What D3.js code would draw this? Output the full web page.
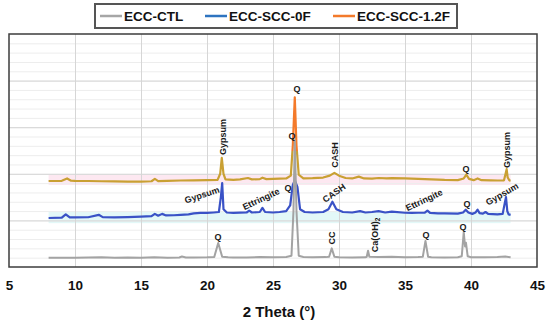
<!DOCTYPE html>
<html>
<head>
<meta charset="utf-8">
<script src="https://cdn.jsdelivr.net/npm/d3@7"></script>
<style>
  body { margin: 0; background: #fff; }
  svg { display: block; font-family: "Liberation Sans", Arial, sans-serif; }
  .peak { font-size: 9px; font-weight: bold; fill: #1a1a1a; }
</style>
</head>
<body>
<div id="chart"></div>
<script>
// XRD patterns, [2 theta, intensity (a.u., stacked offsets)]
const seriesNames = ["ECC-CTL", "ECC-SCC-0F", "ECC-SCC-1.2F"];
const xTicks = [5, 10, 15, 20, 25, 30, 35, 40, 45];

const ctl = [[8,9.8],[9,10],[10,9.8],[11,10.2],[12,10.4],[13,10],[14,10.2],[15,9.9],[16,10.5],[17,10],
  [17.9,10.2],[18.1,11.2],[18.4,10.3],[19,10.2],[20,10.4],[20.55,10.8],[20.85,25.8],[21.15,11],[21.6,10.4],
  [22,10.2],[23,10.3],[24,10.6],[25,10.4],[26,10.8],[26.4,12],[26.55,60],[26.65,136],[26.78,60],[26.95,12],
  [27.3,10.8],[28,10.5],[29,10.6],[29.25,11],[29.45,20],[29.65,11],[30,10.5],[31,10.3],[32,10.4],[32.1,11],
  [32.2,17.5],[32.3,11],[33,10.6],[34,11],[35,10.4],[36,10.6],[36.35,11],[36.55,28],[36.75,11],[37,10.5],
  [38,10.3],[39,10.4],[39.3,11.5],[39.45,37.5],[39.55,22],[39.62,26],[39.75,11.5],[40,10.5],[41,10.4],
  [42,10.6],[42.6,11.2],[43,10.4]];

const scc0 = [[8,52.6],[9,53],[9.3,56.5],[9.6,53.2],[10,53.2],[11,53.4],[11.8,56],[12.1,53.5],[13,53.3],
  [14,53.5],[15,54],[15.8,54.5],[16.05,57],[16.3,55],[16.6,57],[16.9,55.3],[17.5,55.5],[18,56],[18.6,56.5],
  [19,57.5],[19.5,58],[20,58],[20.5,58.5],[20.9,59],[21.05,75],[21.15,90],[21.25,62],[21.5,58.5],[22,58],
  [22.5,58.3],[23,58.5],[23.2,60.5],[23.4,58.5],[24,59],[24.2,63.5],[24.4,59],[25,58.5],[25.5,59],[26,60],
  [26.3,66],[26.5,88],[26.65,93],[26.85,86],[27.05,62],[27.4,59],[28,58.5],[28.8,59],[29.2,62],[29.5,70],
  [29.8,62],[30.3,59],[31,58.5],[31.6,60],[32,58.5],[32.5,59],[33,60],[33.5,58.5],[34,59.5],[35,58.2],
  [35.5,58],[36,58.2],[36.5,58.3],[36.7,60.5],[36.9,58],[37.5,57.5],[38,57.6],[39,57.2],[39.4,58.5],
  [39.6,61.5],[39.8,58.5],[40.1,57],[40.35,58.5],[40.5,61.5],[40.65,57.8],[40.9,57.2],[41.1,59],[41.3,57],
  [42,56.5],[42.4,57],[42.55,68],[42.65,75],[42.75,60],[42.85,56.5],[43,56]];

const scc12 = [[8,92.3],[9,92.5],[9.4,95],[9.7,92.6],[10,92.4],[11,92.3],[12,92],[13,91.8],[14,91.7],
  [15,91.6],[15.8,92],[16.05,94.5],[16.3,92.2],[17,92.4],[18,92.8],[19,93],[20,93.2],[20.8,93.5],[21,100],
  [21.12,117],[21.25,100],[21.4,94],[22,93.5],[22.5,94],[23.1,95.5],[23.4,94],[24,94.3],[24.2,95.8],
  [24.5,94.3],[25,94.5],[25.5,94.8],[26,95],[26.35,98],[26.5,130],[26.65,182],[26.78,130],[26.95,99],
  [27.3,95],[28,95.3],[28.8,96],[29.3,98],[29.65,101],[30,98],[30.5,95.5],[31,95],[31.5,97],[31.9,95],
  [32.5,94.8],[33,95.5],[33.6,95],[34,95.3],[35,95],[36,94.5],[37,94],[38,93.4],[39,93.2],[39.45,95],
  [39.65,99],[39.85,94.5],[40.2,93.2],[40.5,95],[40.8,93.2],[41.5,93],[42,92.8],[42.5,93],[42.62,100],
  [42.7,105],[42.78,96],[42.9,93],[43,92.7]];

// peak annotations: text, 2 theta, intensity, rotation
const peakLabels = [
  ["Gypsum", 21.21, 139.5, -90], ["Q", 26.82, 191, 0], ["Q", 26.44, 140.6, 0], ["CASH", 29.7, 120.2, -90],
  ["Gypsum", 19.62, 77.3, -18], ["Ettringite", 24.09, 73, -25], ["Q", 26.14, 84.8, 0], ["CASH", 29.62, 79.4, -35],
  ["CC", 29.47, 31.1, -90], ["Ettringite", 36.44, 71.9, -25], ["Q", 39.7, 67.6, 0],
  ["Gypsum", 42.35, 78.3, -30], ["Q", 39.62, 105.2, 0], ["Gypsum", 42.73, 125.5, -90],
  ["Q", 20.83, 32.2, 0], ["Q", 36.59, 34.3, 0], ["Q", 39.39, 42.9, 0]];

const W = 550, H = 320;
const svg = d3.select("#chart").append("svg").attr("width", W).attr("height", H);

const x = d3.scaleLinear().domain([5, 45]).range([9, 537]);
const y = d3.scaleLinear().domain([0, 250]).range([267, 34]);

// soft bands behind the two upper traces
svg.append("rect").attr("x", x(8)).attr("width", x(43) - x(8))
  .attr("y", y(99)).attr("height", y(88) - y(99)).attr("fill", "#fde8f1");
svg.append("rect").attr("x", x(8)).attr("width", x(43) - x(8))
  .attr("y", y(60)).attr("height", y(47) - y(60)).attr("fill", "#e3f8f8");

// grid
svg.append("g").attr("transform", "translate(9,0)")
  .call(d3.axisLeft(y).tickValues(d3.range(10, 250, 10)).tickSize(-528).tickFormat(""))
  .call(g => g.select(".domain").remove())
  .call(g => g.selectAll("line").attr("stroke", "#ededed"));
svg.append("g").attr("transform", "translate(9,0)")
  .call(d3.axisLeft(y).tickValues([50, 100, 150, 200]).tickSize(-528).tickFormat(""))
  .call(g => g.select(".domain").remove())
  .call(g => g.selectAll("line").attr("stroke", "#d6d6d6"));
svg.append("g").attr("transform", "translate(0,267)")
  .call(d3.axisBottom(x).tickValues(xTicks.slice(1, -1)).tickSize(-233).tickFormat(""))
  .call(g => g.select(".domain").remove())
  .call(g => g.selectAll("line").attr("stroke", "#d6d6d6"));

// orange trace shifts to gold lower down
const grad = svg.append("defs").append("linearGradient").attr("id", "og")
  .attr("gradientUnits", "userSpaceOnUse").attr("x1", 0).attr("x2", 0)
  .attr("y1", y(250)).attr("y2", y(0));
const cut = (y(124) - y(250)) / (y(0) - y(250));
grad.append("stop").attr("offset", 0).attr("stop-color", "#f47a2a");
grad.append("stop").attr("offset", cut).attr("stop-color", "#f47a2a");
grad.append("stop").attr("offset", cut).attr("stop-color", "#c9a033");
grad.append("stop").attr("offset", 1).attr("stop-color", "#c9a033");

const line = d3.line().x(d => x(d[0])).y(d => y(d[1]));
svg.append("path").datum(scc0).attr("d", line).attr("fill", "none")
  .attr("stroke", "#3a52c6").attr("stroke-width", 2.2).attr("stroke-linejoin", "round");
svg.append("path").datum(scc12).attr("d", line).attr("fill", "none")
  .attr("stroke", "url(#og)").attr("stroke-width", 2.2).attr("stroke-linejoin", "round");
svg.append("path").datum(ctl).attr("d", line).attr("fill", "none")
  .attr("stroke", "#a3a3a3").attr("stroke-width", 2).attr("stroke-linejoin", "round");

// frame
svg.append("rect").attr("x", 9).attr("y", 34).attr("width", 528).attr("height", 233)
  .attr("fill", "none").attr("stroke", "#3d3d3d").attr("stroke-width", 1.5);

// peak labels
peakLabels.forEach(([t, px, py, r]) => {
  const tx = svg.append("text").attr("class", "peak")
    .attr("transform", `translate(${x(px)},${y(py)}) rotate(${r})`)
    .attr("text-anchor", "middle").attr("dy", "0.35em").text(t);
});
const ca = svg.append("text").attr("class", "peak")
  .attr("transform", `translate(${x(32.73)},${y(34.3)}) rotate(-90)`)
  .attr("text-anchor", "middle").attr("dy", "0.35em");
ca.append("tspan").text("Ca(OH)");
ca.append("tspan").attr("font-size", "6.5px").attr("dy", "2").text("2");

// x tick labels
svg.append("g").attr("transform", "translate(0,267)")
  .call(d3.axisBottom(x).tickValues(xTicks).tickSize(0).tickPadding(13))
  .call(g => g.select(".domain").remove())
  .call(g => g.selectAll("text").attr("font-size", "13.5px").attr("font-weight", "bold")
    .attr("font-family", "Liberation Sans, Arial, sans-serif").attr("fill", "#111"));

svg.append("text").attr("x", 279).attr("y", 317).attr("text-anchor", "middle")
  .attr("font-size", "15px").attr("font-weight", "bold").attr("fill", "#111").text("2 Theta (°)");

// legend
const legend = svg.append("g");
legend.append("rect").attr("x", 95).attr("y", 4).attr("width", 362).attr("height", 24)
  .attr("fill", "#fff").attr("stroke", "#555").attr("stroke-width", 2);
const legColors = ["#a6a6a6", "#2e74c0", "#f37a2b"];
const legX = [100, 205, 333];
seriesNames.forEach((n, i) => {
  legend.append("line").attr("x1", legX[i]).attr("x2", legX[i] + 22).attr("y1", 16).attr("y2", 16)
    .attr("stroke", legColors[i]).attr("stroke-width", 2.5);
  legend.append("text").attr("x", legX[i] + 24).attr("y", 16).attr("dy", "0.35em")
    .attr("font-size", "13.5px").attr("font-weight", "bold").attr("fill", "#111").text(n);
});
</script>
</body>
</html>
